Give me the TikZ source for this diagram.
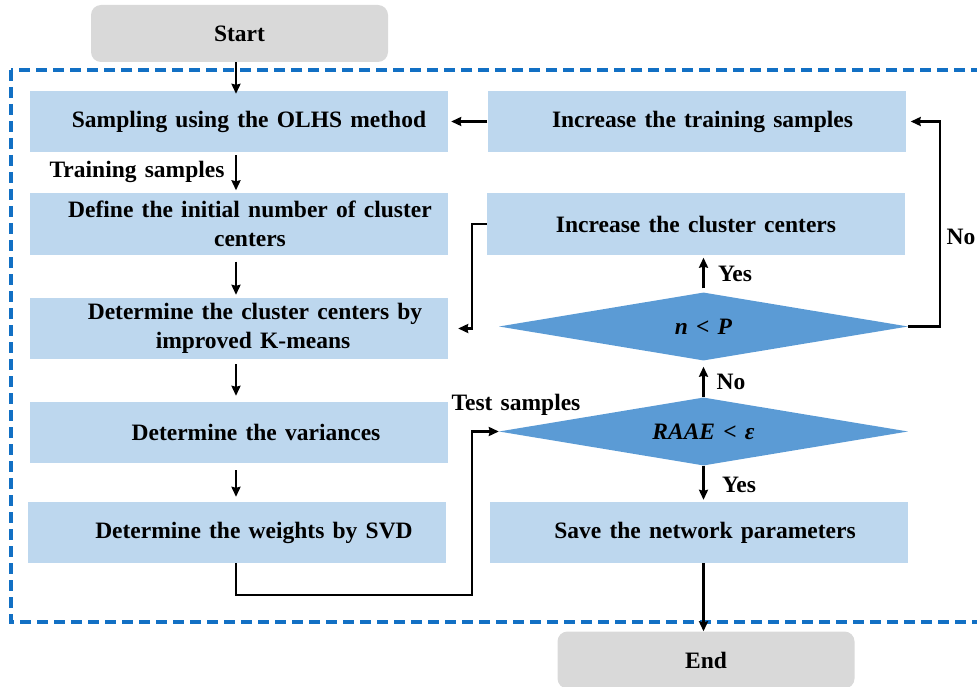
\documentclass[tikz,border=0pt]{standalone}
\usepackage{fontspec}
\setmainfont{Liberation Serif}[WordSpace=1.4]
\usetikzlibrary{shapes.geometric,arrows.meta,calc}
\definecolor{boxblue}{HTML}{BDD7EE}
\definecolor{diablue}{HTML}{5B9BD5}
\definecolor{termgray}{HTML}{D9D9D9}
\definecolor{framblue}{HTML}{1270C4}
\begin{document}
\begin{tikzpicture}[x=1pt,y=-1pt,
  every node/.style={font=\fontsize{23.5}{29}\selectfont\bfseries},
  stepbox/.style={rectangle, fill=boxblue, minimum width=418pt, minimum height=61pt, inner sep=0pt, align=center},
  term/.style={rectangle, rounded corners=10pt, fill=termgray, minimum width=297pt, minimum height=57pt, inner sep=0pt},
  decide/.style={diamond, fill=diablue, minimum width=409pt, minimum height=68pt, inner sep=0pt, aspect=6},
  arr/.style={line width=2.6pt, -{Stealth[length=10pt,width=9pt,inset=1pt]}},
  conn/.style={line width=2.6pt}
]
\useasboundingbox (0,0) rectangle (977,687);
\clip (0,0) rectangle (977,687);

% dashed frame
\draw[framblue, line width=3.2pt, dash pattern=on 11pt off 6pt] (11,70) rectangle (990,622);

% nodes
\node[term] (start) at (239.5,33.5) {Start};
\node[stepbox] (samp) at (239,121.5) {\hspace*{20pt}Sampling using the OLHS method};
\node[stepbox] (inctr) at (696.5,121.5) {\hspace*{12pt}Increase the training samples};
\node[stepbox] (define) at (239,224) {\hspace*{22pt}Define the initial number of cluster\\\hspace*{22pt}centers};
\node[stepbox] (incc) at (696,224) {Increase the cluster centers};
\node[stepbox] (dcc) at (239,328.5) {\hspace*{32pt}Determine the cluster centers by\\\hspace*{28pt}improved K-means};
\node[decide] (np) at (703.5,326.5) {\textit{n} < \textit{P}};
\node[stepbox] (var) at (239,432.5) {\hspace*{34pt}Determine the variances};
\node[decide] (raae) at (703.5,431.5) {\textit{RAAE} < \textit{ε}};
\node[stepbox] (wts) at (237,532.5) {\hspace*{34pt}Determine the weights by SVD};
\node[stepbox] (save) at (699,532.5) {\hspace*{12pt}Save the network parameters};
\node[term] (end) at (706,660) {End};

% helper coordinates
\coordinate (ax) at (236,0);
\coordinate (c1) at (472,595);
\coordinate (c2) at (472,0);
\coordinate (c3) at (940,0);
\coordinate (dx) at (703.5,0);

% labels
\node (lts) at (137,172) {Training samples};
\node (ltest) at (516,405) {Test samples};
\node (lno1) at (731,382) {No};
\node (lyes1) at (735,274) {Yes};
\node (lyes2) at (739,485) {Yes};
\node (lno2) at (961,237) {No};

% connectors
\draw[arr] (start.south -| ax) -- ([yshift=-3pt]samp.north -| ax);
\draw[arr, shorten <=3pt, shorten >=3pt] (samp.south -| ax) -- (define.north -| ax);
\draw[arr, shorten <=7pt, shorten >=3pt] (define.south -| ax) -- (dcc.north -| ax);
\draw[arr, shorten <=5pt, shorten >=6pt] (dcc.south -| ax) -- (var.north -| ax);
\draw[arr, shorten <=7pt, shorten >=5pt] (var.south -| ax) -- (wts.north -| ax);
\draw[arr] (wts.south -| ax) |- (c1) |- (raae.west);
\draw[arr] (inctr.west) -- ([xshift=3pt]samp.east);
\draw[arr] (incc.west) -- (incc.west -| c2) |- ([xshift=10pt]dcc.east);
\draw[arr] (np.east) -- (np.east -| c3) |- ([xshift=5pt]inctr.east);
\draw[arr, shorten >=6pt] (raae.north -| dx) -- (np.south -| dx);
\draw[arr, shorten <=4pt, shorten >=3pt] (np.north -| dx) -- (incc.south -| dx);
\draw[arr, shorten >=2pt] (raae.south -| dx) -- (save.north -| dx);
\draw[arr] (save.south -| dx) -- (end.north -| dx);
\end{tikzpicture}
\end{document}
